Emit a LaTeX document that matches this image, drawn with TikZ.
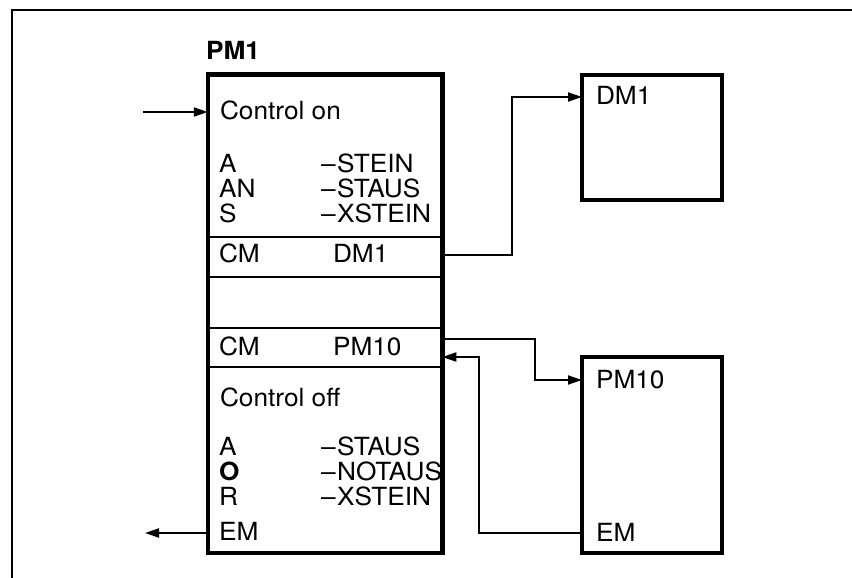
\documentclass[tikz,border=0pt]{standalone}
\usepackage{fontspec}
\setmainfont[FakeStretch=1.05]{TeX Gyre Heros}
\usetikzlibrary{arrows.meta}
\begin{document}
\begin{tikzpicture}[x=1pt,y=-1pt,
  lbl/.style={anchor=base west, inner sep=0, outer sep=0, font=\fontsize{25}{25}\selectfont},
  boldlbl/.style={lbl, font=\fontsize{25}{25}\selectfont\bfseries},
  box/.style={draw, line width=4.5pt, rectangle, inner sep=0, outer sep=0},
  divider/.style={line width=2.5pt},
  conn/.style={line width=2pt},
  tip/.style={-{Triangle[length=14pt,width=9pt]}}]
\useasboundingbox (0,0) rectangle (852,578);
% outer frame
\draw[line width=2.5pt] (852,10) -- (12,10) -- (12,578);
% boxes
\node[box, minimum width=234.5pt, minimum height=478.5pt] (pm1) at (325,313.75) {};
\node[box, minimum width=140pt, minimum height=125pt] (dm1) at (652,137.5) {};
\node[box, minimum width=140pt, minimum height=196pt] (pm10) at (652,455) {};
% dividers in PM1
\foreach \yy in {237,277,328,367}
  \draw[divider] (pm1.west |- 0,\yy) -- (pm1.east |- 0,\yy);
% texts
\node[boldlbl] (tpm1) at (206,60) {PM1};
\node[lbl] (ton) at (220,120) {Control on};
\node[lbl] (ta1) at (219,172) {A};
\node[lbl] (tan) at (219,197) {AN};
\node[lbl] (ts) at (219,222) {S};
\node[lbl] (tstein) at (321,172) {–\kern1.5pt STEIN};
\node[lbl] (tstaus) at (321,197) {–\kern1.5pt STAUS};
\node[lbl] (txstein) at (321,222) {–\kern1.5pt XSTEIN};
\node[lbl] (tcm1) at (219,262) {CM};
\node[lbl] (tdm1ref) at (333,262) {DM1};
\node[lbl] (tcm2) at (219,355) {CM};
\node[lbl] (tpm10ref) at (333,355) {PM10};
\node[lbl] (toff) at (220,406) {Control off};
\node[lbl] (ta2) at (219,455) {A};
\node[boldlbl] (to) at (219,480) {O};
\node[lbl] (tr) at (219,505) {R};
\node[lbl] (tem1) at (219,540) {EM};
\node[lbl] (tstaus2) at (321,455) {–\kern1.5pt STAUS};
\node[lbl] (tnotaus) at (321,480) {–\kern1.5pt NOTAUS};
\node[lbl] (txstein2) at (321,505) {–\kern1.5pt XSTEIN};
\node[lbl] (tdm1) at (596,105) {DM1};
\node[lbl] (tpm10) at (596,388) {PM10};
\node[lbl] (tem2) at (596,541) {EM};
% connectors
\coordinate (inA) at (143,112);
\coordinate (outA) at (145,533);
\draw[conn,tip] (inA) -- (inA -| pm1.west);
\draw[conn,tip] (outA -| pm1.west) -- (outA);
\draw[conn,tip] (pm1.east |- 0,255) -- (512,255) -- (512,97) -- (dm1.west |- 0,97);
\draw[conn,tip] (pm1.east |- 0,339) -- (535,339) -- (535,380) -- (pm10.west |- 0,380);
\draw[conn,tip] (pm10.west |- 0,533) -- (479,533) -- (479,357) -- (pm1.east |- 0,357);
% redraw PM1 right border over overflowing text
\draw[line width=4.5pt] (pm1.north east) -- (pm1.south east);
\end{tikzpicture}
\end{document}
